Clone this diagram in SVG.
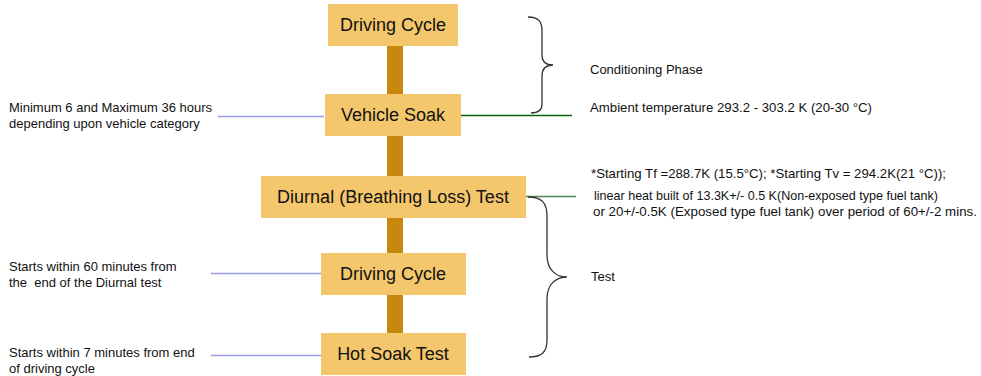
<svg xmlns="http://www.w3.org/2000/svg" width="981" height="376" viewBox="0 0 981 376">
<style>
.box{fill:#f5c76c;}
.bar{fill:#c8880e;}
.nt{font-family:"Liberation Sans",Arial,sans-serif;font-size:18px;fill:#111;text-anchor:middle;}
.t{font-family:"Liberation Sans",Arial,sans-serif;font-size:13px;fill:#111;}
.blue{stroke:#9a9af0;stroke-width:1.6;fill:none;}
.green{stroke:#0e620e;stroke-width:1.4;fill:none;}
.green2{stroke:#4c8a55;stroke-width:1.6;fill:none;}
.brace{stroke:#333;stroke-width:1.3;fill:none;}
</style>
<rect width="981" height="376" fill="#fff"/>
<g id="connectors">
<rect class="bar" x="387" y="46" width="16" height="48"/>
<rect class="bar" x="387" y="136" width="16" height="40"/>
<rect class="bar" x="387" y="218" width="16" height="35"/>
<rect class="bar" x="387" y="295" width="16" height="38"/>
<line class="blue" x1="218" y1="116.5" x2="324" y2="116.5"/>
<line class="blue" x1="211" y1="273.5" x2="321" y2="273.5"/>
<line class="blue" x1="211" y1="355.5" x2="321" y2="355.5"/>
<line class="green" x1="461" y1="115.5" x2="572" y2="115.5"/>
<line class="green2" x1="526" y1="196.5" x2="576" y2="196.5"/>
<path class="brace" d="M528,17 C539,17 542,22 542,31 L542,55 C542,62 546,65 553,65 C546,65 542,69 542,76 L542,104 C542,110 538,113 531,113"/>
<path class="brace" d="M528,197 C542,197 547,203 547,216 L547,255 C547,270 556,277 567,277 C556,277 547,284 547,299 L547,340 C547,352 542,357 529,357"/>
</g>
<g id="n1"><rect class="box" x="328" y="4" width="130" height="42"/><text class="nt" x="393" y="31">Driving Cycle</text></g>
<g id="n2"><rect class="box" x="325" y="94" width="136" height="42"/><text class="nt" x="393" y="121">Vehicle Soak</text></g>
<g id="n3"><rect class="box" x="261" y="176" width="265" height="42"/><text class="nt" x="393" y="203">Diurnal (Breathing Loss) Test</text></g>
<g id="n4"><rect class="box" x="321" y="253" width="145" height="42"/><text class="nt" x="393" y="280">Driving Cycle</text></g>
<g id="n5"><rect class="box" x="321" y="333" width="145" height="42"/><text class="nt" x="393" y="360">Hot Soak Test</text></g>
<g id="labels">
<text class="t" x="9" y="112">Minimum 6 and Maximum 36 hours</text>
<text class="t" x="9" y="128">depending upon vehicle category</text>
<text class="t" x="9" y="271">Starts within 60 minutes from</text>
<text class="t" x="9" y="287" xml:space="preserve">the  end of the Diurnal test</text>
<text class="t" x="9" y="357">Starts within 7 minutes from end</text>
<text class="t" x="9" y="373">of driving cycle</text>
<text class="t" x="590" y="74">Conditioning Phase</text>
<text class="t" x="590" y="112" textLength="282" lengthAdjust="spacingAndGlyphs">Ambient temperature 293.2 - 303.2 K (20-30 °C)</text>
<text class="t" x="591" y="178" textLength="355" lengthAdjust="spacingAndGlyphs">*Starting Tf =288.7K (15.5°C); *Starting Tv = 294.2K(21 °C));</text>
<text class="t" x="594" y="200" textLength="344" lengthAdjust="spacingAndGlyphs">linear heat built of 13.3K+/- 0.5 K(Non-exposed type fuel tank)</text>
<text class="t" x="593" y="216" textLength="384" lengthAdjust="spacingAndGlyphs">or 20+/-0.5K (Exposed type fuel tank) over period of 60+/-2 mins.</text>
<text class="t" x="591" y="281">Test</text>
</g>
</svg>
